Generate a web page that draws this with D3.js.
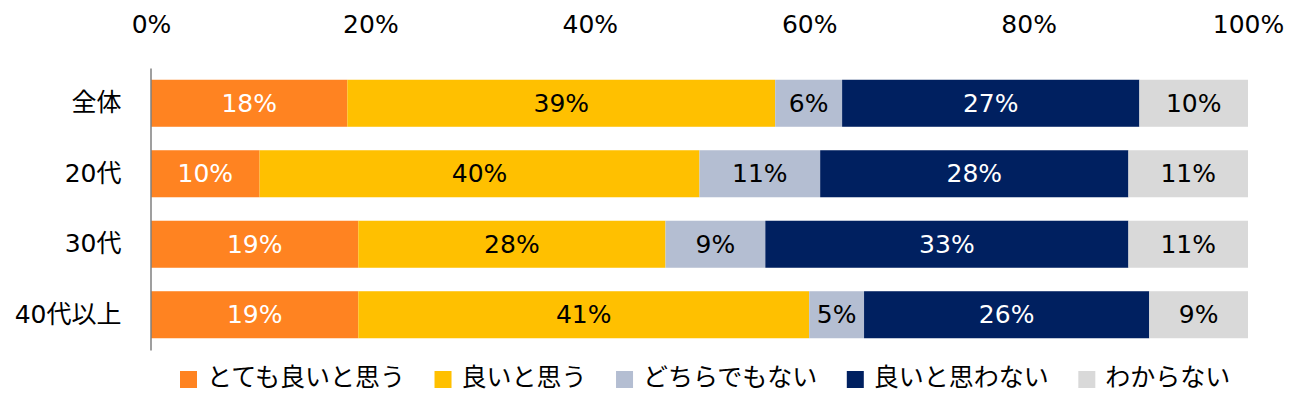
<!DOCTYPE html>
<html><head><meta charset="utf-8">
<script src="https://cdn.jsdelivr.net/npm/d3@7"></script>
<style>
body{margin:0;background:#fff;}
svg text{font-family:"DejaVu Sans","Noto Sans CJK JP",sans-serif;}
</style></head>
<body><svg id="c" width="1300" height="399"></svg>
<script>
const categories = ["全体", "20代", "30代", "40代以上"];
const seriesNames = ["とても良いと思う", "良いと思う", "どちらでもない", "良いと思わない", "わからない"];
const seriesColors = ["#FF8321", "#FFC000", "#B4BED2", "#002060", "#D9D9D9"];
const labelColors = ["#FFFFFF", "#000000", "#000000", "#FFFFFF", "#000000"];
const veryGood = [17.9, 9.9, 18.9, 18.9];
const good = [39.0, 40.1, 28.0, 41.1];
const neutral = [6.1, 11.0, 9.1, 5.0];
const notGood = [27.1, 28.1, 33.1, 26.0];
const unknown = [9.9, 10.9, 10.9, 9.0];
const tickValues = [0, 20, 40, 60, 80, 100];

const series = [veryGood, good, neutral, notGood, unknown];
const svg = d3.select("#c");
const x = d3.scaleLinear().domain([0, 100]).range([151, 1248]);
const y = d3.scaleBand().domain(categories).range([68, 350]).paddingInner(0.333).paddingOuter(0.1667);

// top axis labels
const xAxis = d3.axisTop(x).tickValues(tickValues).tickFormat(d => d + "%").tickSize(0).tickPadding(0);
const gx = svg.append("g").attr("transform", "translate(0,33)").call(xAxis);
gx.select(".domain").remove();
gx.selectAll("text").attr("font-size", 25).attr("fill", "#000").style("font-family", '"DejaVu Sans","Noto Sans CJK JP",sans-serif');

// stacked data
const rows = categories.map((c, i) => {
  let acc = 0;
  return series.map((s, k) => { const r = {cat: c, k, v: s[i], x0: acc, x1: acc + s[i]}; acc += s[i]; return r; });
});

const g = svg.append("g");
rows.forEach(row => {
  row.forEach(d => {
    g.append("rect").attr("x", x(d.x0)).attr("y", y(d.cat))
      .attr("width", x(d.x1) - x(d.x0)).attr("height", y.bandwidth())
      .attr("fill", seriesColors[d.k]);
    g.append("text").attr("x", (x(d.x0) + x(d.x1)) / 2).attr("y", y(d.cat) + y.bandwidth() / 2)
      .attr("text-anchor", "middle").attr("dominant-baseline", "central")
      .attr("font-size", 25).attr("fill", labelColors[d.k])
      .text(Math.round(d.v) + "%");
  });
});

// y axis
const yAxis = d3.axisLeft(y).tickSize(0).tickPadding(29);
const gy = svg.append("g").attr("transform", "translate(150.5,0)").call(yAxis);
gy.select(".domain").attr("stroke", "#7F7F7F").attr("stroke-width", 1.5);
gy.selectAll("text").attr("font-size", 25).attr("fill", "#000").style("font-family", '"DejaVu Sans","Noto Sans CJK JP",sans-serif');

// legend
const lg = svg.append("g");
let lx = 180;
seriesNames.forEach((n, k) => {
  lg.append("rect").attr("x", lx).attr("y", 371).attr("width", 17).attr("height", 17).attr("fill", seriesColors[k]);
  const t = lg.append("text").attr("x", lx + 27).attr("y", 377).attr("dominant-baseline", "central")
    .attr("font-size", 25).attr("fill", "#000").text(n);
  lx = lx + 27 + t.node().getComputedTextLength() + 29.5;
});
</script></body></html>
